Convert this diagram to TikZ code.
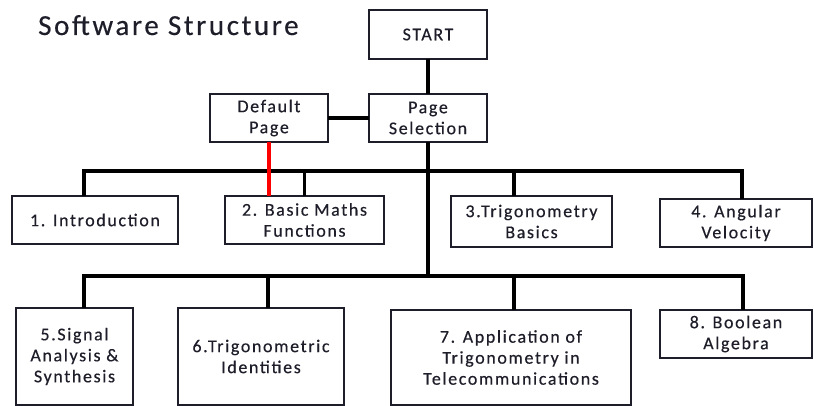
\documentclass[tikz,border=0pt]{standalone}
\usepackage{fontspec}
\setmainfont{Carlito}[LetterSpace=9,FakeBold=0.4]
\begin{document}
\begin{tikzpicture}[x=1pt,y=-1pt,
  ink/.style={color={rgb,255:red,30;green,30;blue,42}},
  box/.style={draw=black, line width=1.8pt, rectangle, inner sep=0pt, outer sep=0pt,
    align=center, ink, font=\fontsize{18}{21}\selectfont},
  link/.style={draw=black, line width=3.2pt},
  redlink/.style={draw=red, line width=3.2pt}]
\useasboundingbox (0,0) rectangle (814,406);

% title
\node[ink, anchor=base west, inner sep=0pt, font=\fontsize{29}{33}\selectfont] (title) at (38,35) {Software Structure};

% top level boxes
\node[box, minimum width=118pt, minimum height=49pt] (start) at (428,34.5) {START};
\node[box, minimum width=118pt, minimum height=48pt] (psel) at (428,118) {Page\\Selection};
\node[box, minimum width=118pt, minimum height=48pt] (dpage) at (269,118) {Default\\Page};

% first row
\node[box, minimum width=166pt, minimum height=48pt] (b1) at (95,220) {1. Introduction};
\node[box, minimum width=159pt, minimum height=48pt] (b2) at (304.5,220) {2. Basic Maths\\Functions};
\node[box, minimum width=161pt, minimum height=51pt] (b3) at (531.5,221.5) {3.Trigonometry\\Basics};
\node[box, minimum width=152pt, minimum height=48pt] (b4) at (736,223) {4. Angular\\Velocity};

% second row
\node[box, minimum width=117pt, minimum height=97pt] (b5) at (74.5,356.5) {5.Signal\\Analysis \&\\Synthesis};
\node[box, minimum width=166pt, minimum height=97pt] (b6) at (261,356.5) {6.Trigonometric\\Identities};
\node[box, minimum width=240pt, minimum height=95pt] (b7) at (511,357.5) {7. Application of\\Trigonometry in\\Telecommunications};
\node[box, minimum width=152pt, minimum height=48pt] (b8) at (736,334) {8. Boolean\\Algebra};

% junction points on the two buses
\coordinate (u1) at (84,171);
\coordinate (u2) at (304.5,171);
\coordinate (u3) at (514,171);
\coordinate (u4) at (742,171);
\coordinate (l1) at (84,276);
\coordinate (l2) at (268,276);
\coordinate (l3) at (514,276);
\coordinate (l4) at (743,276);

% connectors
\draw[link] (start.south) -- (psel.north);
\draw[link] (dpage.east) -- (psel.west);
\draw[link] (psel.south) -- (psel.south |- l1);
\draw[link] (u1 |- b1.north) -- (u1) -- (u4) -- (u4 |- b4.north);
\draw[link] (u2) -- (u2 |- b2.north);
\draw[link] (u3) -- (u3 |- b3.north);
\draw[link] (l1 |- b5.north) -- (l1) -- (l4) -- (l4 |- b8.north);
\draw[link] (l2) -- (l2 |- b6.north);
\draw[link] (l3) -- (l3 |- b7.north);
\draw[redlink] (dpage.south) -- (dpage.south |- b2.north);
\end{tikzpicture}
\end{document}
